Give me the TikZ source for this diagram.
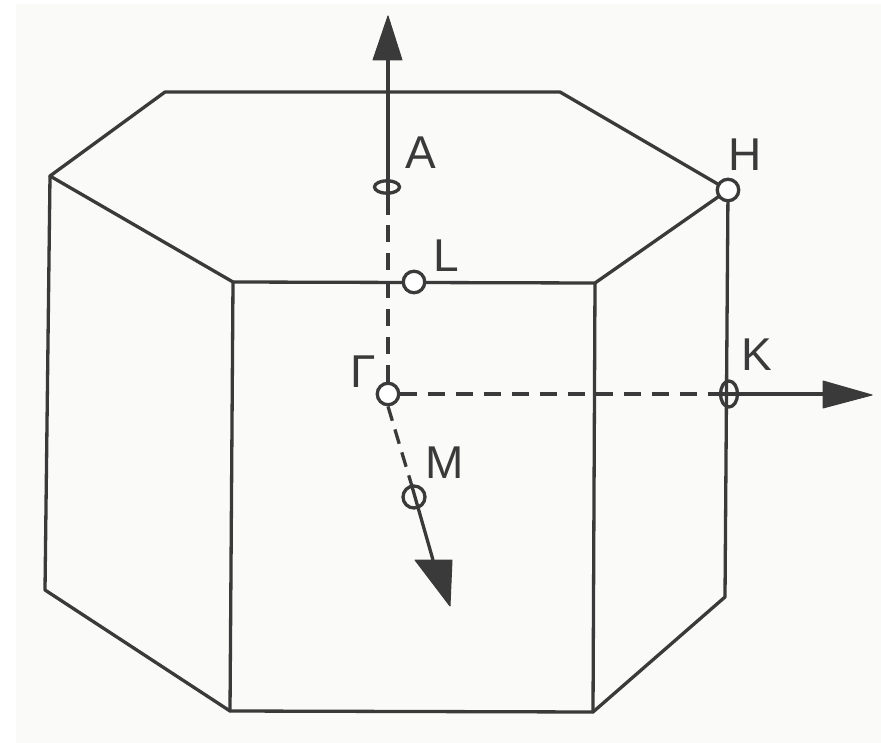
\documentclass[tikz,border=0pt]{standalone}
\usepackage{fontspec}
\setmainfont{Liberation Sans}
\usetikzlibrary{shapes.geometric}
\definecolor{ink}{HTML}{3A3A3A}
\definecolor{paper}{HTML}{FAFAF9}
\pgfdeclarelayer{back}
\pgfsetlayers{back,main}
\tikzset{
  px/.style={x=1pt,y=-1pt},
  edge/.style={draw=ink,line width=3.3pt,line cap=round,line join=round},
  axisline/.style={draw=ink,line width=3.3pt},
  dashline/.style={draw=ink,line width=3.3pt,dash pattern=on 17pt off 11pt},
  shortdash/.style={draw=ink,line width=3.3pt,dash pattern=on 15pt off 9pt},
  head/.style={fill=ink,draw=ink,line width=1pt,line join=round},
  pt/.style={circle,draw=ink,line width=3.3pt,fill=white,minimum size=21.5pt,inner sep=0pt},
  flatpt/.style={ellipse,draw=ink,line width=3.3pt,inner sep=0pt},
  lab/.style={text=ink,inner sep=0pt,anchor=center,font=\fontsize{46}{46}\selectfont},
}
\begin{document}
\begin{tikzpicture}[px]
\useasboundingbox (0,0) rectangle (881,743);
% markers
\node[flatpt,minimum width=25pt,minimum height=12.5pt] (A) at (387,187) {};
\node[pt] (L) at (414,282) {};
\node[pt] (G) at (388,394) {};
\node[flatpt,circle,minimum size=22pt] (M) at (414,497) {};
\node[pt] (H) at (728,190) {};
\node[flatpt,minimum width=17pt,minimum height=26pt] (K) at (729,394) {};
% vertices and free ends
\coordinate (v1) at (50,176);
\coordinate (v2) at (165,92);
\coordinate (v3) at (560,92);
\coordinate (v5) at (595,283);
\coordinate (v6) at (233,282);
\coordinate (b1) at (45,590);
\coordinate (b2) at (230,711);
\coordinate (b3) at (593,712);
\coordinate (b4) at (725,597);
\coordinate (aEnd) at (388,215);
\coordinate (aDash) at (388,225);
\coordinate (upBase) at (388,60);
\coordinate (rtBase) at (823,394);
\coordinate (mBase) at (433,560);
\coordinate (mSolid) at (411,483);
\coordinate (kSolid) at (716,394);
\begin{pgfonlayer}{back}
\fill[white] (0,0) rectangle (881,743);
\fill[paper] (16,4) rectangle (881,743);
% hexagonal prism
\draw[edge] (H.center) -- (v3) -- (v2) -- (v1) -- (v6) -- (v5) -- (H.center);
\draw[edge] (v1) -- (b1) -- (b2) -- (b3) -- (b4) -- (H.center);
\draw[edge] (v6) -- (b2);
\draw[edge] (v5) -- (b3);
% axes
\draw[axisline] (aEnd) -- (upBase);
\draw[dashline] (aDash) -- (G.north);
\draw[dashline] (G.east) -- (kSolid);
\draw[axisline] (kSolid) -- (rtBase);
\draw[shortdash] (G.south) -- (mSolid);
\draw[axisline] (mSolid) -- (mBase);
\end{pgfonlayer}
% arrowheads
\path[head] (388,16) -- (373,60) -- (402,60) -- cycle;
\path[head] (872,395) -- (823,381) -- (823,408) -- cycle;
\path[head] (450,606) -- (415,560) -- (452,560) -- cycle;
% labels
\node[lab] (tA) at (421,153) {A};
\node[lab] (tL) at (446,256) {L};
\node[lab] (tG) at (363,372) {Γ};
\node[lab] (tM) at (445,463) {M};
\node[lab] (tH) at (745,155) {H};
\node[lab] (tK) at (757,355) {K};
\end{tikzpicture}
\end{document}
